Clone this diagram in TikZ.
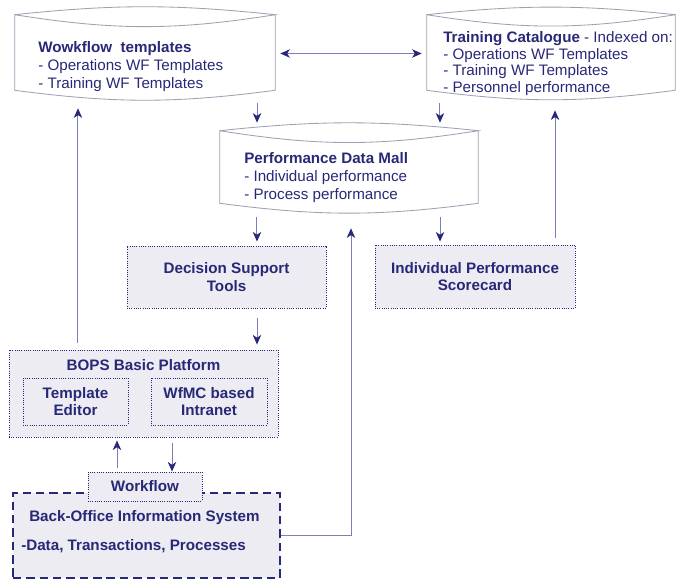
\documentclass[tikz,border=0pt]{standalone}
\usepackage{fontspec}
\setmainfont{Liberation Sans}
\usetikzlibrary{arrows.meta,calc,positioning}
\definecolor{navy}{RGB}{40,40,120}
\definecolor{arrline}{RGB}{125,125,185}
\definecolor{dbgray}{RGB}{160,160,178}
\definecolor{boxfill}{RGB}{236,236,242}
\tikzset{>={Stealth[length=2.4mm,width=2.1mm,inset=0.7mm,navy]}}

% outline of a data store round node #1
\newcommand{\dbdraw}[1]{%
  \draw[dbline] ([yshift=-0.2cm]#1.north west) to[bend left=6] ([yshift=-0.2cm]#1.north east)
    to[bend left=9] ([yshift=-0.2cm]#1.north west) -- ([yshift=0.25cm]#1.south west)
    to[bend right=7.5] ([yshift=0.25cm]#1.south east) -- ([yshift=-0.2cm]#1.north east);}

\begin{document}
\begin{tikzpicture}[x=0.025cm, y=-0.025cm]
  \tikzstyle{dbline} = [draw=dbgray, line width=0.6pt]
  \tikzstyle{db} = [rectangle, inner sep=0pt]
  \tikzstyle{dbtext} = [align=left, inner sep=0pt, text=navy, anchor=north west, font=\fontsize{10.8}{12.8}\selectfont]
  \tikzstyle{tbox} = [rectangle, draw=navy, densely dotted, line width=0.6pt, fill=boxfill, align=center, text=navy, inner sep=0pt, font=\fontsize{10.8}{12.2}\selectfont\bfseries]
  \tikzstyle{flow} = [draw=arrline, line width=0.7pt]
  \useasboundingbox (0,0) rectangle (676,582);

  % data stores
  \node[db, minimum width=6.5cm, minimum height=2.325cm] (wf) at (145,53.5) {};
  \node[db, minimum width=6.2cm, minimum height=2.325cm] (tc) at (551,53.5) {};
  \node[db, minimum width=6.45cm, minimum height=2.25cm] (mall) at (349,168) {};
  \dbdraw{wf}
  \dbdraw{tc}
  \dbdraw{mall}
  \node[dbtext] (wftxt) at (38,41) {\textbf{Wowkflow\ \ templates}\\- Operations WF Templates\\- Training WF Templates};
  \node[dbtext, font=\fontsize{10.8}{11.9}\selectfont] (tctxt) at (443,31) {\textbf{Training Catalogue} - Indexed on:\\- Operations WF Templates\\- Training WF Templates\\- Personnel performance};
  \node[dbtext] (malltxt) at (244,152) {\textbf{Performance Data Mall}\\- Individual performance\\- Process performance};

  % tools and platform
  \node[tbox, minimum width=4.975cm, minimum height=1.55cm] (dst) at (226.5,277) {Decision Support\\Tools};
  \node[tbox, minimum width=5cm, minimum height=1.575cm] (ips) at (475,276.5) {Individual Performance\\Scorecard};
  \node[tbox, minimum width=6.725cm, minimum height=2.175cm] (bops) at (143.5,393.5) {};
  \node[text=navy, font=\fontsize{10.8}{12.2}\selectfont\bfseries] (bopstxt) at (143.5,365) {BOPS Basic Platform};
  \node[tbox, minimum width=2.625cm, minimum height=1.175cm] (ted) at (75.5,401.5) {Template\\Editor};
  \node[tbox, minimum width=2.9cm, minimum height=1.175cm] (wfmc) at (209,401.5) {WfMC based\\Intranet};

  % back office
  \node[rectangle, draw=navy, line width=2pt, dash pattern=on 6pt off 3.5pt, fill=boxfill, minimum width=6.675cm, minimum height=2.125cm] (bois) at (146.5,535.5) {};
  \node[text=navy, anchor=west, inner sep=0pt, font=\fontsize{10.8}{12.2}\selectfont\bfseries] (boistxt) at (29,518) {Back-Office Information System};
  \node[text=navy, anchor=west, inner sep=0pt, font=\fontsize{10.8}{12.2}\selectfont\bfseries] (boisdata) at (21,546) {-Data, Transactions, Processes};
  \node[tbox, minimum width=2.85cm, minimum height=0.725cm] (wfl) at (145,486.5) {Workflow};

  % connectors
  \draw[<->, flow, shorten <=0.125cm, shorten >=0.125cm] (wf.east) -- (tc.west);
  \draw[->, flow, shorten <=0.075cm] ([xshift=2.8cm]wf.south) -- ([xshift=2.8cm]wf.south |- mall.north);
  \draw[->, flow, shorten <=0.075cm] ([xshift=-2.775cm]tc.south) -- ([xshift=-2.775cm]tc.south |- mall.north);
  \draw[->, flow, shorten <=0.1cm, shorten >=0.1cm] ([xshift=-2.3cm]mall.south) -- ([xshift=-2.3cm]mall.south |- dst.north);
  \draw[->, flow, shorten <=0.1cm, shorten >=0.075cm] ([xshift=2.275cm]mall.south) -- ([xshift=2.275cm]mall.south |- ips.north);
  \draw[->, flow, shorten <=0.175cm, shorten >=0.25cm] ([xshift=2cm]ips.north) -- ([xshift=2cm]ips.north |- tc.south);
  \draw[->, flow, shorten <=0.175cm, shorten >=0.2cm] ([xshift=-1.6375cm]bops.north) -- ([xshift=-1.6375cm]bops.north |- wf.south);
  \draw[->, flow, shorten <=0.25cm, shorten >=0.125cm] ([xshift=0.7625cm]dst.south) -- ([xshift=0.7625cm]dst.south |- bops.north);
  \draw[->, flow, shorten <=0.1cm, shorten >=0.075cm] ([xshift=-0.7cm]wfl.north) -- ([xshift=-0.7cm]wfl.north |- bops.south);
  \draw[->, flow, shorten <=0.15cm] ([xshift=0.675cm]wfl.north |- bops.south) -- ([xshift=0.675cm]wfl.north);
  \draw[->, flow, shorten >=0.375cm] (bois.east) -| ([xshift=0.05cm]mall.south);
\end{tikzpicture}
\end{document}
